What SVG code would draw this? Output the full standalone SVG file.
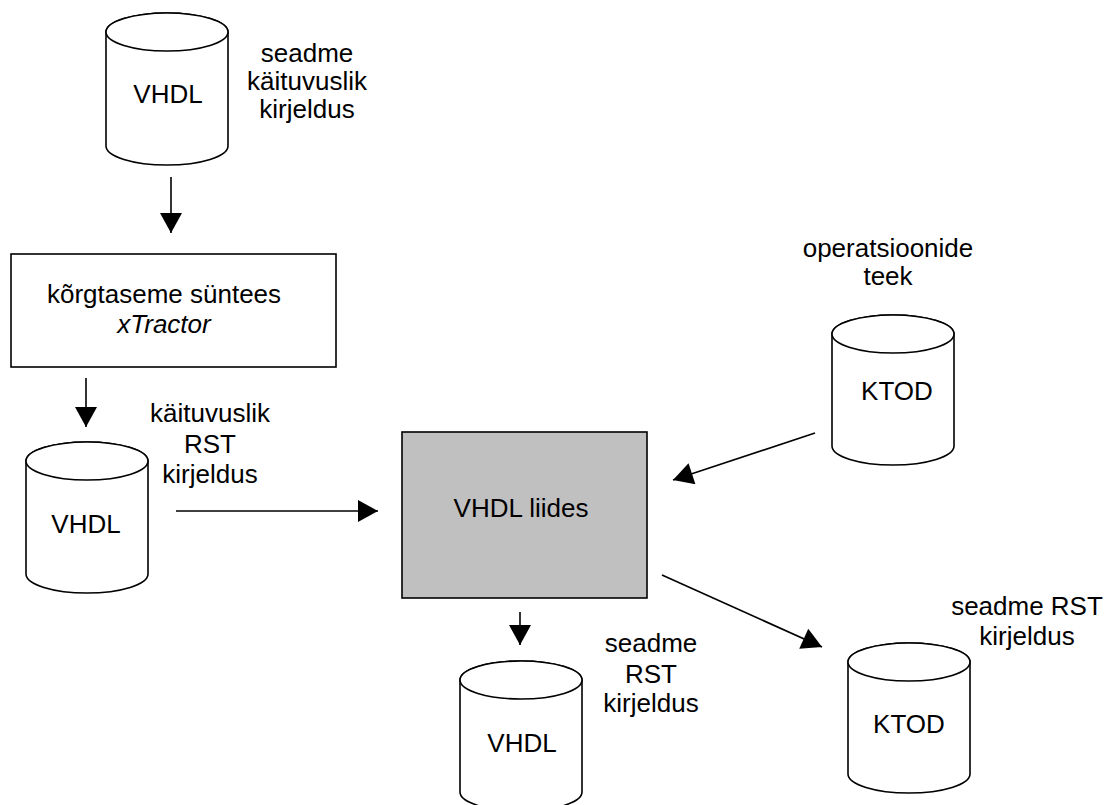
<svg xmlns="http://www.w3.org/2000/svg" width="1109" height="805" viewBox="0 0 1109 805">
  <style>
    .bg { fill: #ffffff; }
    .cyl { fill: #ffffff; stroke: #000000; stroke-width: 1.6; }
    .box { fill: #ffffff; stroke: #000000; stroke-width: 1.6; }
    .box.grey { fill: #c0c0c0; }
    .lbl { font-family: "Liberation Sans", Arial, sans-serif; font-size: 26px; fill: #000000; text-anchor: middle; }
    .it { font-style: italic; }
    .edge { stroke: #000000; stroke-width: 1.6; fill: none; marker-end: url(#head); }
  </style>
  <defs>
    <marker id="head" markerUnits="userSpaceOnUse" markerWidth="22" markerHeight="22" viewBox="0 0 20 22" refX="20" refY="11" orient="auto">
      <path d="M0,0 L20,11 L0,22 Z" fill="#000000"/>
    </marker>
  </defs>
  <rect class="bg" x="0" y="0" width="1109" height="805"/>

  <!-- behavioural device description (VHDL) -->
  <g id="vhdl-source">
    <path class="cyl" d="M106,32 A61,19 0 0 1 228,32 V146 A61,19 0 0 1 106,146 Z"/>
    <ellipse class="cyl" cx="167" cy="32" rx="61" ry="19"/>
    <text class="lbl" x="168" y="103">VHDL</text>
    <text class="lbl" x="307" y="62">seadme</text>
    <text class="lbl" x="307" y="90">käituvuslik</text>
    <text class="lbl" x="307" y="118">kirjeldus</text>
  </g>

  <!-- high-level synthesis tool -->
  <g id="hls">
    <rect class="box" x="11" y="254" width="325" height="113"/>
    <text class="lbl" x="164" y="303">kõrgtaseme süntees</text>
    <text class="lbl it" x="164" y="333">xTractor</text>
  </g>

  <!-- behavioural RTL description (VHDL) -->
  <g id="vhdl-rtl">
    <path class="cyl" d="M26,461 A61,19 0 0 1 148,461 V574 A61,19 0 0 1 26,574 Z"/>
    <ellipse class="cyl" cx="87" cy="461" rx="61" ry="19"/>
    <text class="lbl" x="86" y="533">VHDL</text>
    <text class="lbl" x="210" y="422">käituvuslik</text>
    <text class="lbl" x="210" y="453">RST</text>
    <text class="lbl" x="210" y="483">kirjeldus</text>
  </g>

  <!-- VHDL interface -->
  <g id="vhdl-interface">
    <rect class="box grey" x="402" y="432" width="245" height="166"/>
    <text class="lbl" x="521" y="517">VHDL liides</text>
  </g>

  <!-- operations library -->
  <g id="ktod-lib">
    <path class="cyl" d="M832,334 A61,19 0 0 1 954,334 V446 A61,19 0 0 1 832,446 Z"/>
    <ellipse class="cyl" cx="893" cy="334" rx="61" ry="19"/>
    <text class="lbl" x="897" y="400">KTOD</text>
    <text class="lbl" x="888" y="257">operatsioonide</text>
    <text class="lbl" x="888" y="285">teek</text>
  </g>

  <!-- device RTL description (VHDL) -->
  <g id="vhdl-out">
    <path class="cyl" d="M460,680 A61,19 0 0 1 582,680 V792 A61,19 0 0 1 460,792 Z"/>
    <ellipse class="cyl" cx="521" cy="680" rx="61" ry="19"/>
    <text class="lbl" x="522" y="752">VHDL</text>
    <text class="lbl" x="651" y="652">seadme</text>
    <text class="lbl" x="651" y="683">RST</text>
    <text class="lbl" x="651" y="712">kirjeldus</text>
  </g>

  <!-- device RTL description (KTOD) -->
  <g id="ktod-out">
    <path class="cyl" d="M848,662 A61,19 0 0 1 970,662 V774 A61,19 0 0 1 848,774 Z"/>
    <ellipse class="cyl" cx="909" cy="662" rx="61" ry="19"/>
    <text class="lbl" x="909" y="733">KTOD</text>
    <text class="lbl" x="1027" y="615">seadme RST</text>
    <text class="lbl" x="1027" y="645">kirjeldus</text>
  </g>

  <g id="connectors">
    <line class="edge" x1="171" y1="177" x2="171" y2="233"/>
    <line class="edge" x1="86" y1="378" x2="86" y2="427"/>
    <line class="edge" x1="176" y1="511" x2="378" y2="511"/>
    <line class="edge" x1="815" y1="433" x2="673" y2="480"/>
    <line class="edge" x1="520" y1="612" x2="520" y2="645"/>
    <line class="edge" x1="662" y1="575" x2="822" y2="647"/>
  </g>
</svg>
